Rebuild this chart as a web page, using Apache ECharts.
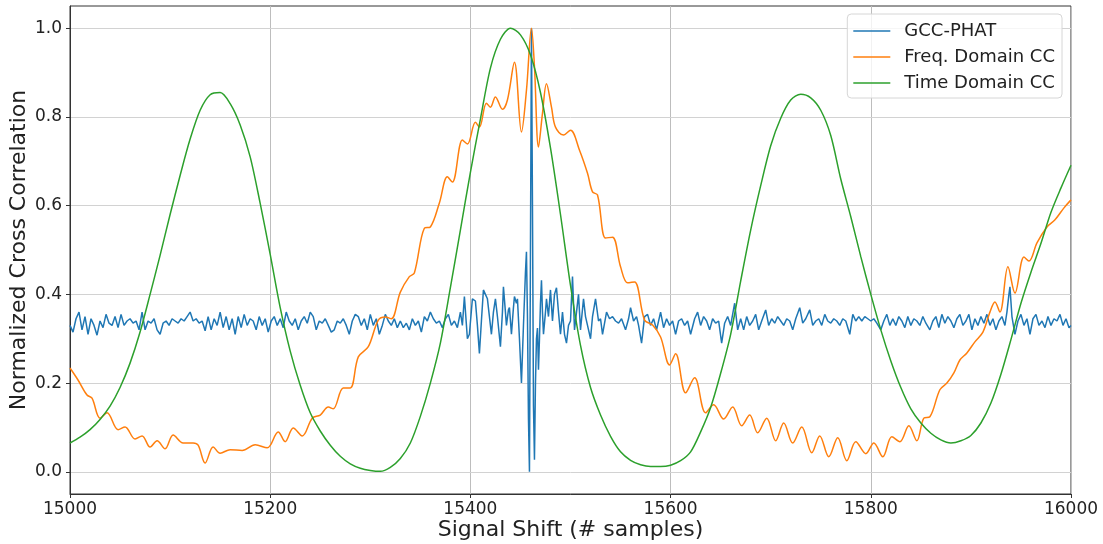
<!DOCTYPE html>
<html>
<head>
<meta charset="utf-8">
<script src="https://cdn.jsdelivr.net/npm/echarts@6/dist/echarts.min.js"></script>
<style>html,body{margin:0;padding:0;background:#fff}#c{width:1103px;height:544px}</style>
</head>
<body>
<div id="c"></div>
<script>
const xTicks = [15000, 15200, 15400, 15600, 15800, 16000];
const yTicks = [0.0, 0.2, 0.4, 0.6, 0.8, 1.0];

const gccPhat = [
[15000,0.33],[15003,0.315],[15006,0.345],[15009,0.36],[15012,0.32],[15015,0.35],[15018,0.31],[15021,0.345],[15024,0.33],[15027,0.308],
[15030,0.34],[15033,0.325],[15036,0.355],[15039,0.335],[15042,0.33],[15045,0.35],[15048,0.325],[15051,0.355],[15054,0.33],[15057,0.34],
[15060,0.345],[15063,0.335],[15066,0.34],[15069,0.32],[15072,0.36],[15075,0.32],[15078,0.34],[15081,0.335],[15084,0.345],[15087,0.32],
[15090,0.31],[15093,0.335],[15096,0.34],[15099,0.33],[15102,0.345],[15105,0.34],[15108,0.335],[15111,0.345],[15114,0.34],[15117,0.35],
[15120,0.36],[15123,0.34],[15126,0.345],[15129,0.335],[15132,0.34],[15135,0.318],[15138,0.35],[15141,0.32],[15144,0.345],[15147,0.33],
[15150,0.36],[15153,0.325],[15156,0.35],[15159,0.32],[15162,0.345],[15165,0.31],[15168,0.35],[15171,0.325],[15174,0.355],[15177,0.33],
[15180,0.345],[15183,0.34],[15186,0.32],[15189,0.35],[15192,0.33],[15195,0.345],[15198,0.315],[15201,0.34],[15204,0.35],[15207,0.33],
[15210,0.345],[15213,0.325],[15216,0.36],[15219,0.34],[15222,0.33],[15225,0.345],[15228,0.32],[15231,0.34],[15234,0.35],[15237,0.335],
[15240,0.36],[15243,0.35],[15246,0.32],[15249,0.34],[15252,0.335],[15255,0.345],[15258,0.33],[15261,0.315],[15264,0.32],[15267,0.34],
[15270,0.335],[15273,0.345],[15276,0.33],[15279,0.31],[15282,0.34],[15285,0.355],[15288,0.35],[15291,0.33],[15294,0.345],[15297,0.32],
[15300,0.355],[15303,0.33],[15306,0.345],[15309,0.31],[15312,0.33],[15315,0.355],[15318,0.34],[15321,0.33],[15324,0.345],[15327,0.325],
[15330,0.34],[15333,0.325],[15336,0.335],[15339,0.32],[15342,0.345],[15345,0.33],[15348,0.34],[15351,0.315],[15354,0.35],[15357,0.34],
[15360,0.36],[15363,0.345],[15366,0.335],[15369,0.34],[15372,0.325],[15375,0.345],[15378,0.355],[15381,0.33],[15384,0.34],[15387,0.325],
[15390,0.36],[15392,0.33],[15394,0.395],[15397,0.3],[15399,0.31],[15402,0.39],[15405,0.385],[15407,0.33],[15409,0.267],[15411,0.34],
[15413,0.41],[15415,0.4],[15417,0.39],[15419,0.35],[15421,0.31],[15423,0.36],[15425,0.39],[15427,0.35],[15430,0.282],[15432,0.36],
[15433,0.417],[15435,0.36],[15436,0.33],[15438,0.365],[15439,0.37],[15441,0.31],[15443,0.37],[15444,0.395],[15446,0.38],[15447,0.39],
[15449,0.3],[15451,0.2],[15453,0.33],[15455,0.45],[15456,0.496],[15457,0.35],[15458,0.12],[15459,0.0],[15460,0.5],[15461,1.0],
[15462,0.6],[15463,0.15],[15464,0.027],[15465,0.2],[15466,0.3],[15467,0.324],[15468,0.23],[15469,0.3],[15470,0.38],[15471,0.432],
[15472,0.36],[15473,0.31],[15475,0.36],[15476,0.39],[15478,0.35],[15480,0.41],[15482,0.34],[15484,0.40],[15486,0.415],[15488,0.36],
[15490,0.31],[15492,0.36],[15494,0.31],[15496,0.29],[15498,0.33],[15500,0.34],[15502,0.44],[15504,0.32],[15506,0.36],[15508,0.40],
[15510,0.32],[15513,0.39],[15515,0.35],[15517,0.33],[15520,0.30],[15522,0.35],[15525,0.39],[15528,0.34],[15530,0.345],[15532,0.31],
[15536,0.36],[15539,0.345],[15542,0.35],[15545,0.34],[15548,0.335],[15551,0.345],[15555,0.32],[15558,0.345],[15560,0.37],[15563,0.34],
[15566,0.35],[15568,0.33],[15571,0.29],[15574,0.35],[15577,0.355],[15580,0.33],[15583,0.345],[15586,0.32],[15590,0.36],[15593,0.325],
[15596,0.345],[15599,0.33],[15602,0.34],[15605,0.31],[15608,0.34],[15611,0.345],[15614,0.33],[15617,0.34],[15620,0.31],[15624,0.345],
[15627,0.36],[15630,0.33],[15633,0.35],[15636,0.34],[15639,0.32],[15642,0.345],[15645,0.335],[15648,0.34],[15651,0.29],[15654,0.335],
[15657,0.35],[15660,0.33],[15664,0.38],[15667,0.32],[15670,0.345],[15673,0.32],[15676,0.35],[15679,0.33],[15682,0.34],[15685,0.355],
[15688,0.32],[15691,0.34],[15695,0.365],[15698,0.33],[15701,0.345],[15704,0.335],[15707,0.35],[15710,0.34],[15713,0.33],[15716,0.345],
[15719,0.34],[15722,0.32],[15725,0.345],[15729,0.37],[15732,0.335],[15735,0.345],[15739,0.365],[15742,0.33],[15745,0.34],[15748,0.345],
[15751,0.33],[15754,0.355],[15757,0.34],[15760,0.335],[15763,0.345],[15766,0.34],[15769,0.33],[15772,0.345],[15775,0.34],[15779,0.31],
[15782,0.355],[15785,0.34],[15788,0.35],[15791,0.34],[15794,0.35],[15797,0.345],[15800,0.34],[15803,0.345],[15806,0.335],[15810,0.32],
[15813,0.34],[15816,0.355],[15819,0.33],[15822,0.345],[15825,0.33],[15828,0.35],[15831,0.34],[15834,0.325],[15837,0.35],[15840,0.33],
[15843,0.345],[15846,0.34],[15849,0.33],[15852,0.35],[15855,0.335],[15859,0.32],[15862,0.34],[15865,0.35],[15868,0.325],[15871,0.355],
[15874,0.335],[15877,0.35],[15880,0.34],[15883,0.325],[15886,0.345],[15889,0.355],[15892,0.33],[15895,0.34],[15898,0.355],[15901,0.32],
[15904,0.345],[15907,0.33],[15910,0.35],[15913,0.335],[15916,0.355],[15919,0.33],[15922,0.345],[15925,0.32],[15928,0.34],[15931,0.35],
[15934,0.33],[15936,0.36],[15938,0.40],[15939,0.417],[15941,0.35],[15944,0.31],[15947,0.34],[15950,0.355],[15953,0.33],[15956,0.345],
[15959,0.31],[15962,0.345],[15965,0.355],[15968,0.33],[15971,0.34],[15974,0.325],[15977,0.35],[15980,0.33],[15983,0.345],[15986,0.34],
[15989,0.355],[15992,0.33],[15995,0.345],[15998,0.325],[16000,0.33]
];

const freqCC = [
[15000,0.234],[15008,0.207],[15017,0.173],[15022,0.166],[15030,0.121],[15037,0.133],[15048,0.095],[15055,0.101],[15065,0.074],[15072,0.081],
[15080,0.056],[15087,0.07],[15095,0.052],[15103,0.083],[15113,0.065],[15123,0.065],[15128,0.06],[15135,0.02],[15143,0.056],[15150,0.042],
[15160,0.05],[15172,0.048],[15185,0.061],[15197,0.054],[15208,0.09],[15215,0.068],[15223,0.099],[15232,0.081],[15242,0.121],[15250,0.128],
[15258,0.146],[15263,0.142],[15273,0.189],[15280,0.189],[15288,0.259],[15298,0.282],[15308,0.342],[15315,0.349],[15321,0.345],[15330,0.405],
[15339,0.44],[15344,0.448],[15354,0.549],[15360,0.552],[15369,0.606],[15377,0.665],[15382,0.653],[15392,0.748],[15397,0.739],[15405,0.788],
[15409,0.777],[15416,0.831],[15420,0.822],[15425,0.845],[15432,0.817],[15437,0.838],[15444,0.923],[15451,0.766],[15456,0.86],[15461,1.0],
[15464,0.913],[15468,0.732],[15472,0.808],[15476,0.875],[15481,0.822],[15485,0.777],[15493,0.759],[15500,0.77],[15509,0.725],[15517,0.673],
[15522,0.631],[15527,0.624],[15535,0.527],[15542,0.529],[15550,0.462],[15557,0.426],[15564,0.428],[15574,0.342],[15582,0.331],[15590,0.304],
[15599,0.241],[15605,0.266],[15615,0.178],[15624,0.212],[15635,0.133],[15643,0.151],[15653,0.119],[15662,0.146],[15671,0.104],[15679,0.128],
[15687,0.088],[15696,0.121],[15705,0.07],[15713,0.110],[15722,0.065],[15731,0.101],[15741,0.043],[15749,0.081],[15758,0.034],[15767,0.077],
[15776,0.025],[15785,0.068],[15795,0.041],[15803,0.065],[15812,0.034],[15821,0.079],[15829,0.068],[15838,0.104],[15846,0.07],[15853,0.121],
[15859,0.124],[15869,0.185],[15876,0.2],[15883,0.223],[15889,0.252],[15896,0.268],[15904,0.293],[15912,0.315],[15919,0.36],[15924,0.383],
[15929,0.36],[15937,0.462],[15944,0.403],[15953,0.484],[15958,0.475],[15966,0.516],[15976,0.552],[15984,0.568],[15993,0.595],[16000,0.613]
];

const timeCC = [
[15000,0.065],[15010,0.078],[15020,0.095],[15030,0.118],[15040,0.148],[15050,0.19],[15060,0.245],[15070,0.315],[15080,0.40],[15090,0.488],
[15100,0.58],[15110,0.668],[15120,0.75],[15130,0.815],[15140,0.85],[15150,0.855],[15160,0.83],[15170,0.782],[15180,0.71],[15190,0.605],
[15200,0.49],[15210,0.37],[15220,0.272],[15230,0.195],[15240,0.133],[15250,0.092],[15260,0.06],[15270,0.035],[15280,0.018],[15290,0.008],
[15300,0.003],[15310,0.001],[15320,0.01],[15330,0.03],[15340,0.065],[15350,0.125],[15360,0.2],[15370,0.29],[15380,0.415],[15390,0.545],
[15400,0.675],[15410,0.795],[15420,0.91],[15430,0.975],[15440,1.0],[15450,0.985],[15460,0.94],[15470,0.855],[15480,0.73],[15490,0.58],
[15500,0.42],[15510,0.285],[15520,0.19],[15530,0.128],[15540,0.08],[15550,0.045],[15560,0.026],[15570,0.016],[15580,0.012],[15590,0.012],
[15600,0.015],[15610,0.025],[15620,0.045],[15630,0.09],[15640,0.145],[15650,0.222],[15660,0.31],[15670,0.43],[15680,0.545],[15690,0.645],
[15700,0.735],[15710,0.797],[15720,0.838],[15730,0.851],[15740,0.843],[15750,0.815],[15760,0.758],[15770,0.66],[15780,0.575],[15790,0.485],
[15800,0.40],[15810,0.32],[15820,0.25],[15830,0.19],[15840,0.142],[15850,0.11],[15860,0.087],[15870,0.072],[15880,0.065],[15890,0.07],
[15900,0.082],[15910,0.11],[15920,0.155],[15930,0.22],[15940,0.298],[15950,0.38],[15960,0.45],[15970,0.515],[15980,0.585],[15990,0.64],
[16000,0.691]
];

const font = 'DejaVu Sans';
const lineIcon = 'path://M0,0 L37,0 L37,1.6 L0,1.6 Z';
const chart = echarts.init(document.getElementById('c'), null, {renderer: 'canvas'});
chart.setOption({
  animation: false,
  backgroundColor: '#fff',
  grid: {left: 70, right: 32, top: 6, bottom: 50, outerBoundsMode: 'none', containLabel: false,
         show: true, borderColor: '#333', borderWidth: 1, backgroundColor: 'transparent'},
  legend: {
    data: [
      {name: 'GCC-PHAT', icon: lineIcon},
      {name: 'Freq. Domain CC', icon: lineIcon},
      {name: 'Time Domain CC', icon: lineIcon}
    ],
    orient: 'vertical', right: 41, top: 14, symbolKeepAspect: true, z: 10,
    backgroundColor: 'rgba(255,255,255,0.8)', borderColor: '#d6d6d6', borderWidth: 1, borderRadius: 4,
    padding: [7, 7, 5, 6], itemWidth: 37, itemHeight: 14, itemGap: 6,
    textStyle: {fontFamily: font, fontSize: 18, lineHeight: 20, color: '#222', padding: [0, 0, 0, 9]}
  },
  xAxis: {
    type: 'value', min: 15000, max: 16000, interval: 200,
    axisLine: {show: true, onZero: false, lineStyle: {color: '#333', width: 1}},
    axisTick: {show: true, length: 4, lineStyle: {color: '#333'}},
    axisLabel: {fontFamily: font, fontSize: 17, color: '#222', margin: 7, formatter: v => String(v)},
    splitLine: {show: true, lineStyle: {color: '#bdbdbd', width: 1}},
    name: 'Signal Shift (# samples)', nameLocation: 'middle', nameGap: 25, nameMoveOverlap: false,
    nameTextStyle: {fontFamily: font, fontSize: 22, color: '#222'}
  },
  yAxis: {
    type: 'value', min: -0.05, max: 1.05,
    axisLine: {show: true, onZero: false, lineStyle: {color: '#333', width: 1}},
    axisTick: {show: true, length: 4, lineStyle: {color: '#333'}, customValues: yTicks},
    axisLabel: {fontFamily: font, fontSize: 17, color: '#222', margin: 8, customValues: yTicks, formatter: v => v.toFixed(1)},
    splitLine: {show: false},
    name: 'Normalized Cross Correlation', nameLocation: 'middle', nameGap: 40, nameMoveOverlap: false,
    nameTextStyle: {fontFamily: font, fontSize: 22, color: '#222'}
  },
  series: [
    {name: 'gridY', type: 'line', data: [], silent: true, z: 0,
     markLine: {silent: true, symbol: 'none', animation: false, label: {show: false}, z: 0,
       lineStyle: {color: '#d2d2d2', type: 'solid', width: 1},
       data: yTicks.map(v => ({yAxis: v}))}},
    {name: 'GCC-PHAT', type: 'line', data: gccPhat, symbol: 'none', showSymbol: false,
     lineStyle: {color: '#1f77b4', width: 1.5}, itemStyle: {color: '#1f77b4'}},
    {name: 'Freq. Domain CC', type: 'line', data: freqCC, symbol: 'none', showSymbol: false, smooth: 0.35,
     lineStyle: {color: '#ff7f0e', width: 1.5}, itemStyle: {color: '#ff7f0e'}},
    {name: 'Time Domain CC', type: 'line', data: timeCC, symbol: 'none', showSymbol: false, smooth: 0.3,
     lineStyle: {color: '#2ca02c', width: 1.5}, itemStyle: {color: '#2ca02c'}}
  ]
});
</script>
</body>
</html>
